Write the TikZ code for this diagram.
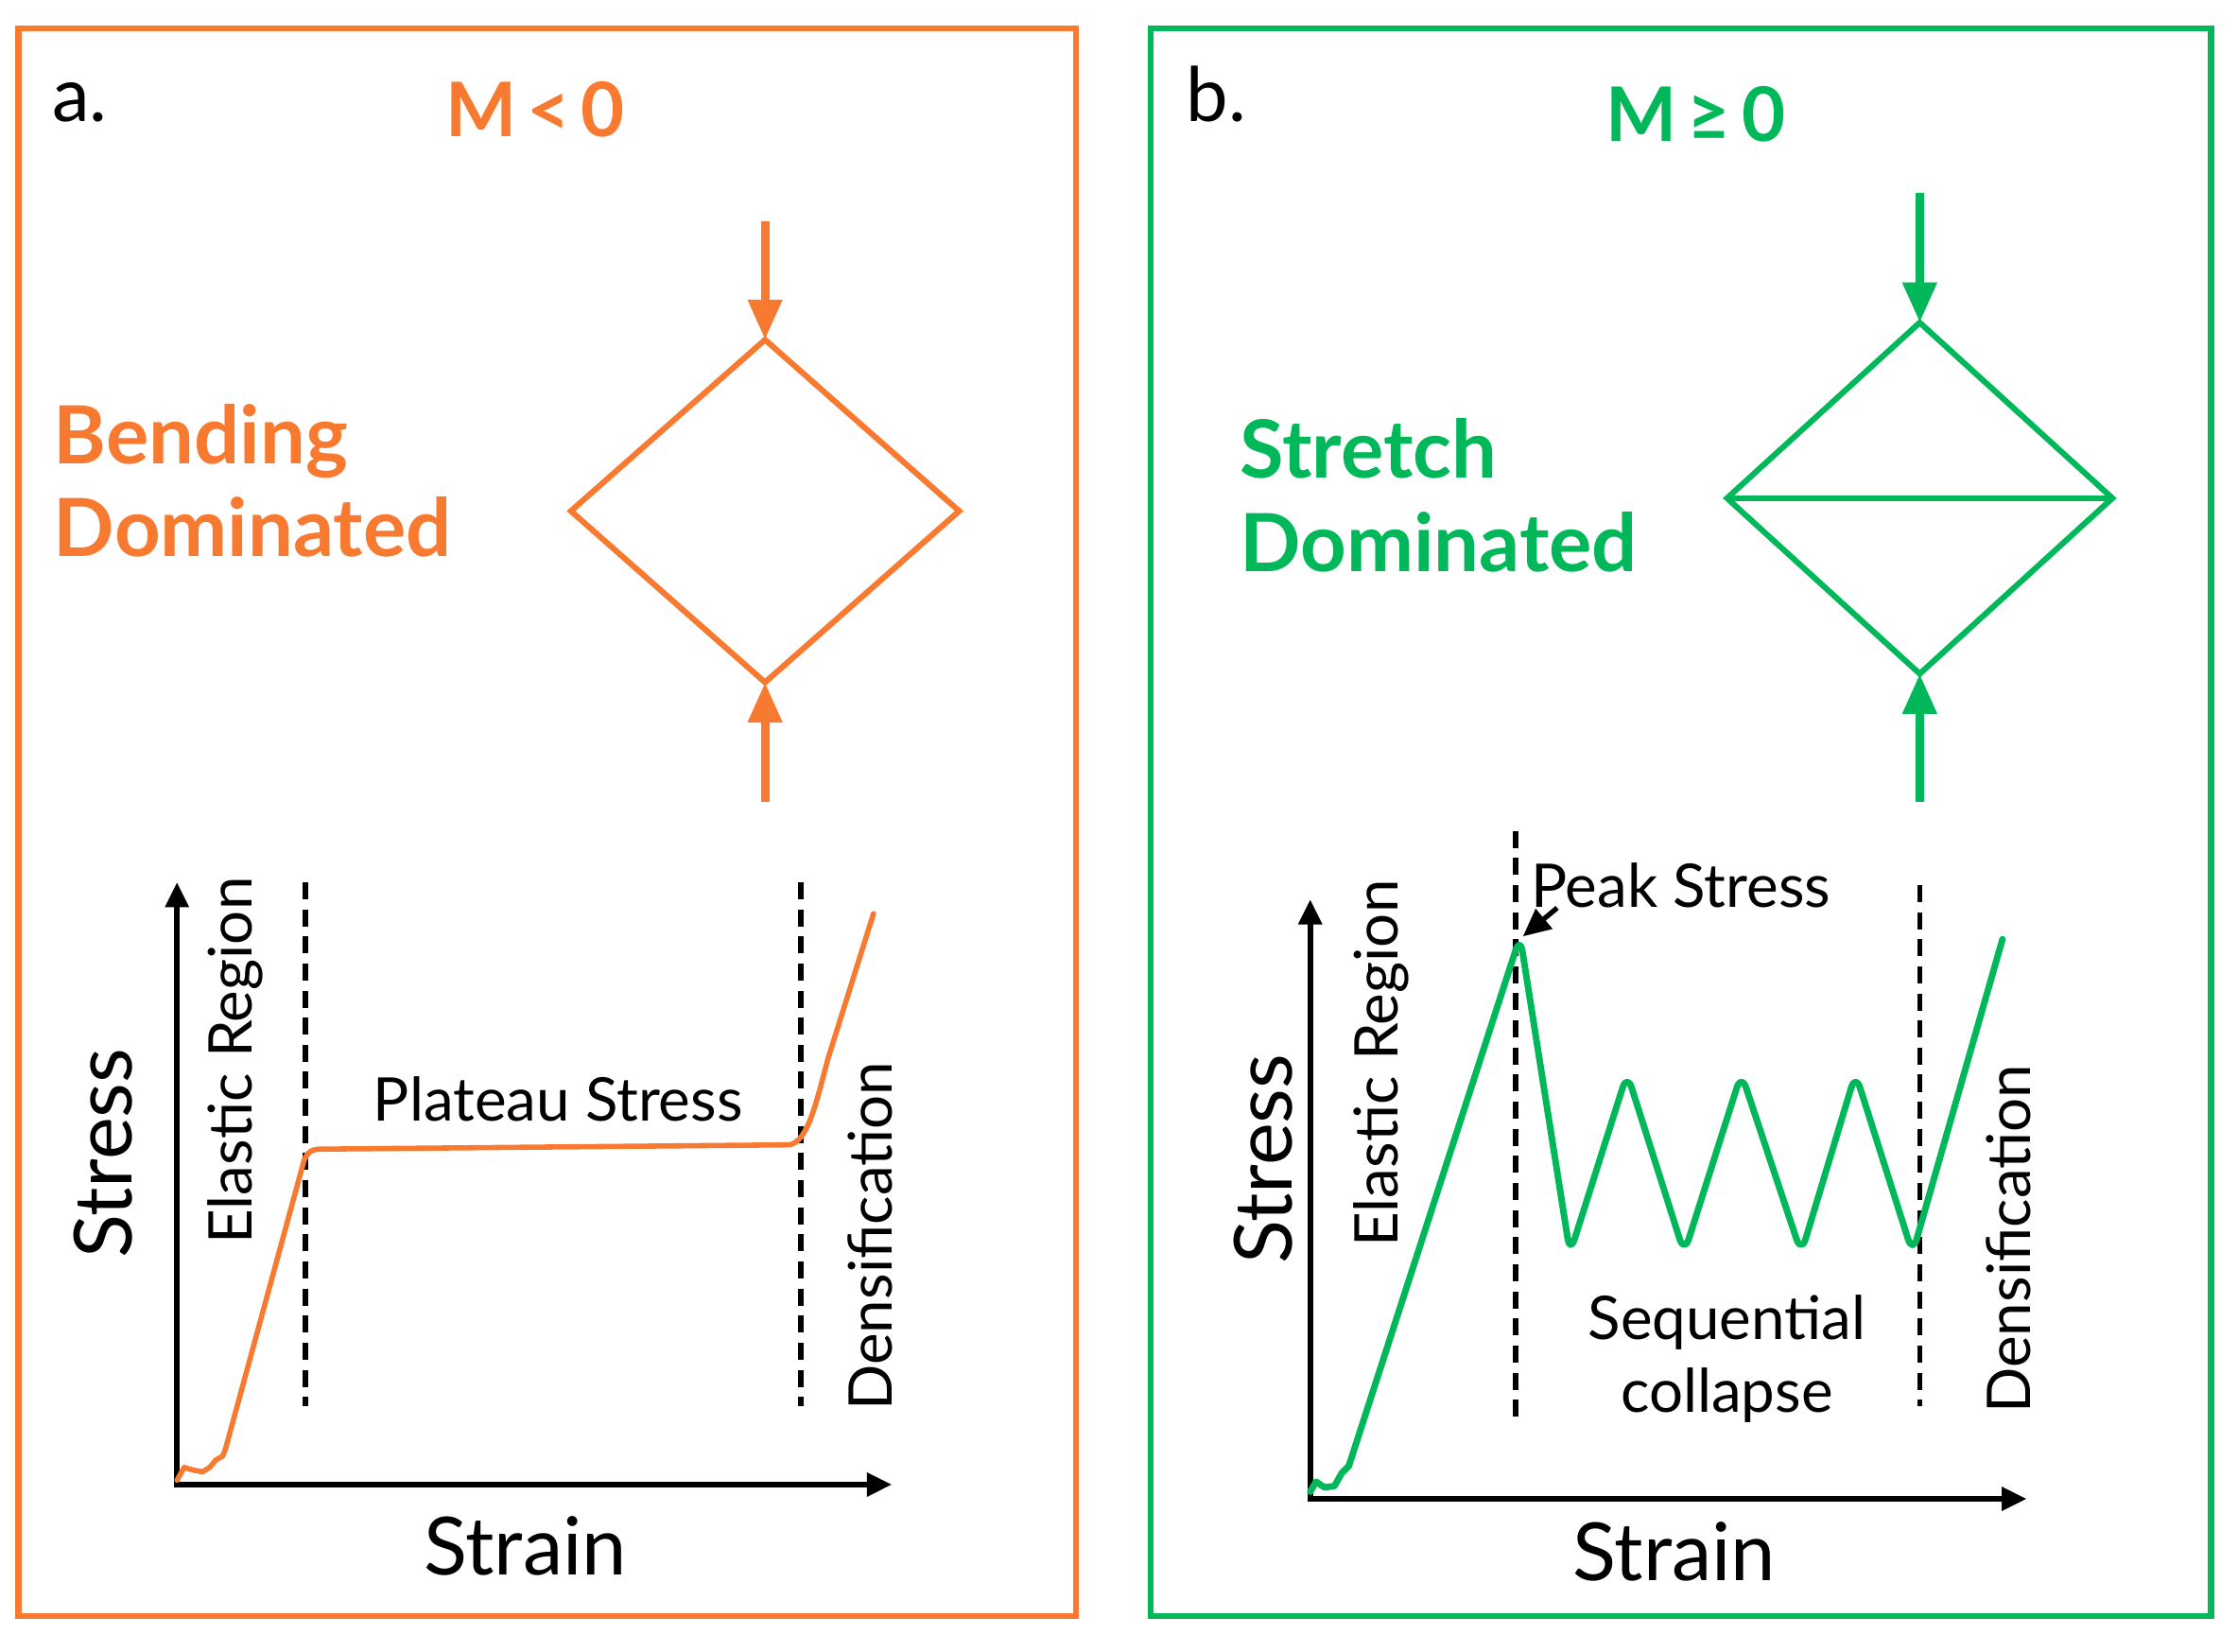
\documentclass[tikz,border=0pt]{standalone}
\usepackage{fontspec}
\setmainfont{Lato}
\usetikzlibrary{arrows.meta}
\definecolor{ora}{RGB}{247,122,48}
\definecolor{grn}{RGB}{0,184,90}
\begin{document}
\begin{tikzpicture}[x=0.1mm,y=-0.1mm,
  frame/.style={line width=1.2pt},
  lattice/.style={line width=1.15pt, line join=miter},
  force/.style={line width=1.7pt, -{Triangle[length=8pt,width=6.5pt]}},
  axes/.style={line width=1.2pt, {Triangle[length=5pt,width=4.5pt]}-{Triangle[length=5pt,width=4.5pt]}},
  divider/.style={line width=1.05pt, dash pattern=on 3.4pt off 2pt},
  curve/.style={line join=round, line cap=round},
  lbl/.style={inner sep=0pt, font=\fontsize{12}{14.5}\selectfont},
  axlbl/.style={inner sep=0pt, font=\fontsize{16}{19}\selectfont},
  title/.style={inner sep=0pt, font=\fontsize{15}{18}\selectfont\bfseries},
  kind/.style={inner sep=0pt, align=left, anchor=west, font=\fontsize{16}{18.5}\selectfont\bfseries},
  tag/.style={inner sep=0pt, font=\fontsize{15}{18}\selectfont},
]
\useasboundingbox (0,0) rectangle (1568,1157);
% frames
\draw[frame, ora] (13,20) rectangle (754,1132);
\draw[frame, grn] (806,20) rectangle (1549,1132);

% ---------- panel a ----------
\node[tag] (tagA) at (56,72) {a.};
\node[title, ora] (titA) at (375,77) {M\hspace{0.14em}<\hspace{0.14em}0};
\node[kind, ora] (kindA) at (37,337) {Bending\\Dominated};
\coordinate (aT) at (536,238);
\coordinate (aR) at (672,358);
\coordinate (aB) at (536,478);
\coordinate (aL) at (400,358);
\draw[lattice, ora] (aT) -- (aR) -- (aB) -- (aL) -- cycle;
\coordinate (aF1) at (536,155);
\coordinate (aF2) at (536,562);
\draw[force, ora] (aF1) -- (aT);
\draw[force, ora] (aF2) -- (aB);

\coordinate (aO) at (124,1040);
\coordinate (aY) at (124,618);
\coordinate (aX) at (625,1040);
\draw[axes] (aY) -- (aO) -- (aX);
\coordinate (aD1a) at (214,618); \coordinate (aD1b) at (214,985);
\coordinate (aD2a) at (561,618); \coordinate (aD2b) at (561,985);
\draw[divider] (aD1a) -- (aD1b);
\draw[divider] (aD2a) -- (aD2b);
\draw[curve, ora, line width=1.05pt] (124,1037) -- (129,1028) -- (136,1030) -- (142,1031) -- (147,1028) -- (151,1023) -- (156,1020) -- (158,1015) -- (213,813)
  .. controls (216,806) and (219,805) .. (226,805) -- (553,802)
  .. controls (566,800) and (572,772) .. (580,742) -- (612,640);
\node[lbl, rotate=90] (elA) at (165,743) {Elastic Region};
\node[axlbl, rotate=90] (stA) at (72,808) {Stress};
\node[axlbl] (snA) at (368,1083) {Strain};
\node[lbl] (plA) at (391,770) {Plateau Stress};
\node[lbl, rotate=90] (deA) at (610,866) {Densification};

% ---------- panel b ----------
\node[tag] (tagB) at (852,66) {b.};
\node[title, grn] (titB) at (1188,80) {M\hspace{0.14em}≥\hspace{0.14em}0};
\node[kind, grn] (kindB) at (868,347) {Stretch\\Dominated};
\coordinate (bT) at (1345,226);
\coordinate (bR) at (1480,349);
\coordinate (bB) at (1345,472);
\coordinate (bL) at (1210,349);
\draw[lattice, grn] (bT) -- (bR) -- (bB) -- (bL) -- cycle;
\draw[lattice, grn] (bL) -- (bR);
\coordinate (bF1) at (1345,135);
\coordinate (bF2) at (1345,562);
\draw[force, grn] (bF1) -- (bT);
\draw[force, grn] (bF2) -- (bB);

\coordinate (bO) at (918,1050);
\coordinate (bY) at (918,630);
\coordinate (bX) at (1420,1050);
\draw[axes] (bY) -- (bO) -- (bX);
\coordinate (bD1a) at (1062,582); \coordinate (bD1b) at (1062,995);
\coordinate (bD2a) at (1345,620); \coordinate (bD2b) at (1345,985);
\draw[divider] (bD1a) -- (bD1b);
\draw[divider] (bD2a) -- (bD2b);
\draw[curve, grn, line width=1.3pt] (918,1045) -- (922,1038) -- (928,1042) -- (935,1041) -- (940,1032) -- (945,1027)
  [rounded corners=3pt] -- (1065,656) -- (1100,878) -- (1140,752) -- (1180,878) -- (1220,752) -- (1262,878) -- (1300,752) -- (1340,878) -- (1403,658);
\node[lbl, rotate=90] (elB) at (968,745) {Elastic Region};
\node[axlbl, rotate=90] (stB) at (885,812) {Stress};
\node[axlbl] (snB) at (1173,1087) {Strain};
\node[lbl, anchor=west] (pkB) at (1072,620) {Peak Stress};
\coordinate (pkS) at (1091,636);
\coordinate (pkE) at (1067,656);
\draw[line width=1pt, -{Triangle[length=5.5pt,width=5pt]}] (pkS) -- (pkE);
\node[lbl, align=center] (sqB) at (1210,952) {Sequential\\collapse};
\node[lbl, rotate=90] (deB) at (1407,868) {Densification};
\end{tikzpicture}
\end{document}
